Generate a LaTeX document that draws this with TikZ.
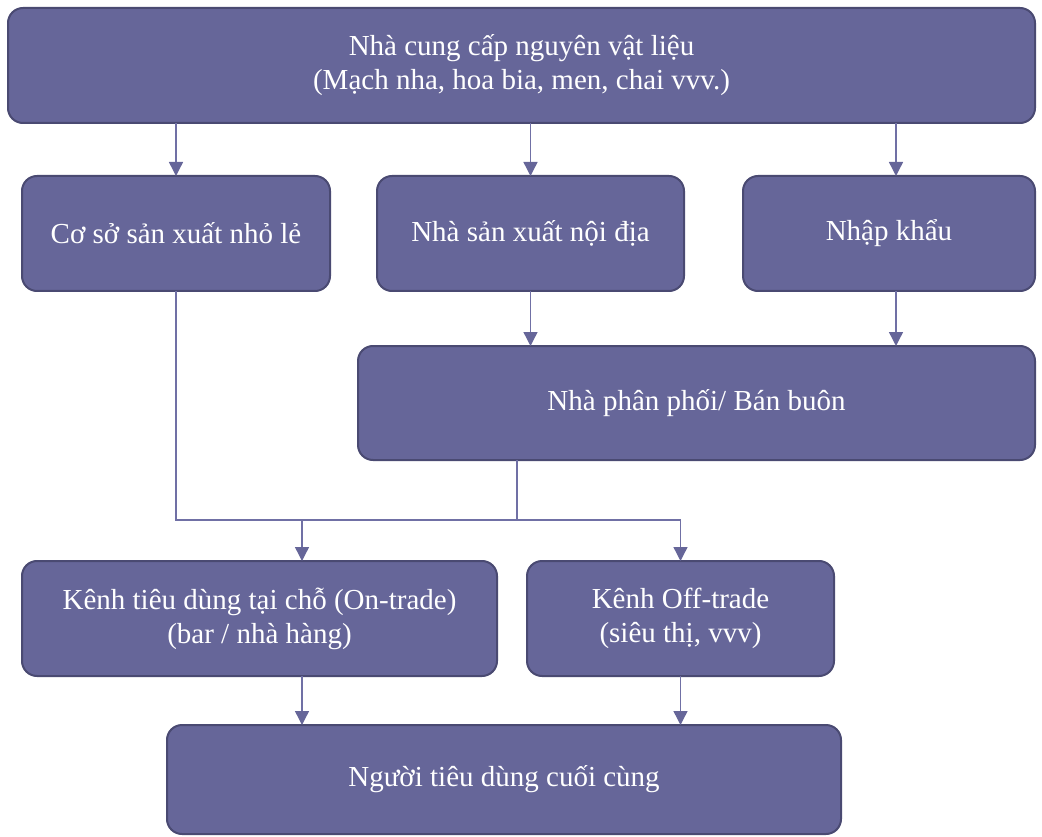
\documentclass[tikz,border=0pt]{standalone}
\usepackage{fontspec}
\setmainfont{Liberation Serif}
\usetikzlibrary{arrows.meta}
\definecolor{boxfill}{RGB}{102,102,153}
\definecolor{boxline}{RGB}{74,74,114}
\definecolor{linkcol}{RGB}{112,112,165}
\begin{document}
\begin{tikzpicture}[x=1pt,y=-1pt,
    box/.style={draw=boxline,fill=boxfill,line width=2pt,rounded corners=15pt,text=white,align=center,
        inner sep=0pt,outer sep=0pt,minimum height=115pt,font=\fontsize{29}{34}\selectfont},
    link/.style={draw=linkcol,line width=1.4pt},
    arr/.style={link,-{Triangle[width=14pt,length=14pt,color=boxfill]}}]
        \useasboundingbox(0,0)rectangle(1042,837);
        \node[box,minimum width=1027pt](supply)at(521.5,65.5){Nhà cung cấp nguyên vật liệu\\(Mạch nha, hoa bia, men, chai vvv.)};
        \node[box,minimum width=308pt](small)at(176,233.5){Cơ sở sản xuất nhỏ lẻ};
        \node[box,minimum width=307pt](domestic)at(530.5,233.5){Nhà sản xuất nội địa};
        \node[box,minimum width=292pt](import)at(889,233.5){Nhập khẩu};
        \node[box,minimum width=677pt,minimum height=114pt](distrib)at(696.5,403){Nhà phân phối/ Bán buôn};
        \node[box,minimum width=475pt](ontrade)at(259.5,618.5){Kênh tiêu dùng tại chỗ (On-trade)\\(bar / nhà hàng)};
        \node[box,minimum width=307pt](offtrade)at(680.5,618.5){Kênh Off-trade\\(siêu thị, vvv)};
        \node[box,minimum width=674pt,minimum height=109pt](consumer)at(504,779.5){Người tiêu dùng cuối cùng};
        \coordinate(impx)at(896,0);
        \coordinate(disx)at(517,0);
        \coordinate(onx)at(302,0);
        \coordinate(join)at(0,520);
        \draw[arr](supply.south-|small.north)--(small.north);
        \draw[arr](supply.south-|domestic.north)--(domestic.north);
        \draw[arr](supply.south-|impx)--(import.north-|impx);
        \draw[arr](domestic.south)--(distrib.north-|domestic.south);
        \draw[arr](import.south-|impx)--(distrib.north-|impx);
        \draw[link](small.south)--(small.south|-join)--(join-|offtrade.north);
        \draw[link](distrib.south-|disx)--(join-|disx);
        \draw[arr](join-|onx)--(ontrade.north-|onx);
        \draw[arr](join-|offtrade.north)--(offtrade.north);
        \draw[arr](ontrade.south-|onx)--(consumer.north-|onx);
        \draw[arr](offtrade.south)--(consumer.north-|offtrade.south);
    \end{tikzpicture}
\end{document}
